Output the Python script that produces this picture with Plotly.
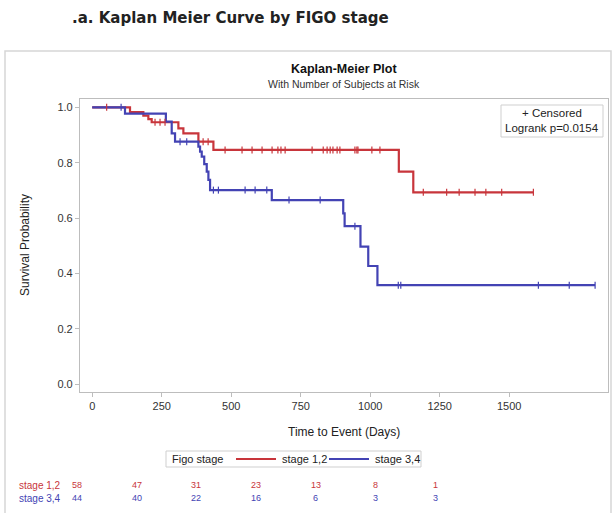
import plotly.graph_objects as go

# ---------------- data ----------------
red_t = [0, 136, 184, 202, 214, 310, 328, 382, 436, 1103, 1155, 1587]
red_s = [1.0, 0.983, 0.970, 0.957, 0.946, 0.924, 0.906, 0.876, 0.846, 0.768, 0.693, 0.693]
red_cens_t = [52, 226, 244, 262, 399, 417, 478, 539, 575, 611, 647, 668, 679, 694,
              791, 831, 845, 856, 866, 881, 891, 945, 952, 956, 1006, 1035,
              1191, 1275, 1320, 1377, 1416, 1473, 1587]

blue_t = [0, 118, 265, 286, 298, 382, 388, 394, 403, 412, 418, 424, 646, 903, 908,
          965, 993, 1026, 1809]
blue_s = [1.0, 0.977, 0.948, 0.906, 0.876, 0.858, 0.840, 0.822, 0.795, 0.768, 0.738,
          0.701, 0.665, 0.617, 0.571, 0.497, 0.427, 0.358, 0.358]
blue_cens_t = [104, 316, 340, 436, 454, 550, 586, 628, 708, 820, 945, 1101, 1110,
               1605, 1716, 1809]

risk_times = [0, 250, 500, 750, 1000, 1250, 1500]
risk_12 = [58, 47, 31, 23, 13, 8, 1]
risk_34 = [44, 40, 22, 16, 6, 3, 3]

x_ticks = [0, 250, 500, 750, 1000, 1250, 1500]
y_ticks = [0.0, 0.2, 0.4, 0.6, 0.8, 1.0]

group_names = ["stage 1,2", "stage 3,4"]
RED = "#C8353B"
BLUE = "#4343B4"
GRAY = "#BDBDBD"
FONT = "Liberation Sans"


def step_level(ts, ss, t):
    lvl = ss[0]
    for ti, si in zip(ts, ss):
        if ti <= t:
            lvl = si
    return lvl


# ---------------- layout geometry (pixels) ----------------
W, H = 612, 513
L, R, T, B = 80, 608, 99, 392  # plot area box in pixels


def px(xp):
    return (xp - L) / (R - L)


def py(yp):
    return (B - yp) / (B - T)


fig = go.Figure()

# curves
fig.add_trace(go.Scatter(x=red_t, y=red_s, mode="lines", line=dict(color=RED, width=2.2, shape="hv"),
                         name=group_names[0], showlegend=False, hoverinfo="x+y"))
fig.add_trace(go.Scatter(x=blue_t, y=blue_s, mode="lines", line=dict(color=BLUE, width=2.2, shape="hv"),
                         name=group_names[1], showlegend=False, hoverinfo="x+y"))
# censored marks
fig.add_trace(go.Scatter(x=red_cens_t, y=[step_level(red_t, red_s, t) for t in red_cens_t], mode="markers",
                         marker=dict(symbol="line-ns", size=5, line=dict(color=RED, width=1.2)),
                         showlegend=False, hoverinfo="x+y"))
fig.add_trace(go.Scatter(x=blue_cens_t, y=[step_level(blue_t, blue_s, t) for t in blue_cens_t], mode="markers",
                         marker=dict(symbol="line-ns", size=5, line=dict(color=BLUE, width=1.2)),
                         showlegend=False, hoverinfo="x+y"))

shapes = []
annotations = []

# outer frame
shapes.append(dict(type="rect", xref="paper", yref="paper", x0=px(5), x1=px(611), y0=py(51), y1=py(530),
                   line=dict(color="#D6D6D6", width=1.5), layer="below"))

# main title
annotations.append(dict(text="<b>.a. Kaplan Meier Curve by FIGO stage</b>", xref="paper", yref="paper",
                        x=px(230), y=py(18), xanchor="center", yanchor="middle", showarrow=False,
                        font=dict(family="DejaVu Sans", size=15, color="#222222")))
# plot title and subtitle
annotations.append(dict(text="<b>Kaplan-Meier Plot</b>", xref="paper", yref="paper", x=px(344), y=py(69),
                        xanchor="center", yanchor="middle", showarrow=False,
                        font=dict(family=FONT, size=12.5, color="#111111")))
annotations.append(dict(text="With Number of Subjects at Risk", xref="paper", yref="paper", x=px(344), y=py(84),
                        xanchor="center", yanchor="middle", showarrow=False,
                        font=dict(family=FONT, size=10.5, color="#333333")))

# inset box
shapes.append(dict(type="rect", xref="paper", yref="paper", x0=px(501), x1=px(603), y0=py(137), y1=py(105),
                   line=dict(color="#CFCFCF", width=1), fillcolor="white"))
annotations.append(dict(text="+ Censored", xref="paper", yref="paper", x=px(552), y=py(113),
                        xanchor="center", yanchor="middle", showarrow=False,
                        font=dict(family=FONT, size=11.5, color="#222222")))
annotations.append(dict(text="Logrank p=0.0154", xref="paper", yref="paper", x=px(552), y=py(128),
                        xanchor="center", yanchor="middle", showarrow=False,
                        font=dict(family=FONT, size=11.5, color="#222222")))

# axis titles
annotations.append(dict(text="Survival Probability", xref="paper", yref="paper", x=px(25), y=py(245),
                        xanchor="center", yanchor="middle", textangle=-90, showarrow=False,
                        font=dict(family=FONT, size=12, color="#222222")))
annotations.append(dict(text="Time to Event (Days)", xref="paper", yref="paper", x=px(344), y=py(432),
                        xanchor="center", yanchor="middle", showarrow=False,
                        font=dict(family=FONT, size=12, color="#222222")))

# legend (drawn)
shapes.append(dict(type="rect", xref="paper", yref="paper", x0=px(166), x1=px(421), y0=py(467), y1=py(451),
                   line=dict(color="#CFCFCF", width=1)))
annotations.append(dict(text="Figo stage", xref="paper", yref="paper", x=px(170), y=py(459),
                        xanchor="left", yanchor="middle", showarrow=False,
                        font=dict(family=FONT, size=11, color="#222222")))
shapes.append(dict(type="line", xref="paper", yref="paper", x0=px(236), x1=px(276), y0=py(459), y1=py(459),
                   line=dict(color=RED, width=2.2)))
annotations.append(dict(text=group_names[0], xref="paper", yref="paper", x=px(280), y=py(459),
                        xanchor="left", yanchor="middle", showarrow=False,
                        font=dict(family=FONT, size=11, color="#222222")))
shapes.append(dict(type="line", xref="paper", yref="paper", x0=px(329), x1=px(369), y0=py(459), y1=py(459),
                   line=dict(color=BLUE, width=2.2)))
annotations.append(dict(text=group_names[1], xref="paper", yref="paper", x=px(373), y=py(459),
                        xanchor="left", yanchor="middle", showarrow=False,
                        font=dict(family=FONT, size=11, color="#222222")))

# at-risk table rows
annotations.append(dict(text=group_names[0], xref="paper", yref="paper", x=px(17), y=py(485),
                        xanchor="left", yanchor="middle", showarrow=False,
                        font=dict(family=FONT, size=10, color=RED)))
annotations.append(dict(text=group_names[1], xref="paper", yref="paper", x=px(17), y=py(498),
                        xanchor="left", yanchor="middle", showarrow=False,
                        font=dict(family=FONT, size=10, color=BLUE)))
SHIFT = -5  # table scale: 0 -> 82 px (then shifted to 77 px), 1500 -> 435 px
for t, n in zip(risk_times, risk_12):
    annotations.append(dict(text=str(n), xref="x2", yref="paper", x=t, y=py(485), xanchor="center",
                            yanchor="middle", showarrow=False, xshift=SHIFT,
                            font=dict(family=FONT, size=9, color=RED)))
for t, n in zip(risk_times, risk_34):
    annotations.append(dict(text=str(n), xref="x2", yref="paper", x=t, y=py(498), xanchor="center",
                            yanchor="middle", showarrow=False, xshift=SHIFT,
                            font=dict(family=FONT, size=9, color=BLUE)))

# x-axis scale in pixels: 0 -> 92.2 px, 0.278 px/day
x0p, kx = 92.2, 0.278
xr = [(L - x0p) / kx, (R - x0p) / kx]
# at-risk table scale: 0 -> 82 px, 1500 -> 440 px (before shift)
k2 = (440 - 82) / 1500
x2r = [(L - 82) / k2, (R - 82) / k2]
# y scale: 0 -> 384.3 px, 1 -> 107.3 px
ky = 384.3 - 107.3
yr = [(384.3 - B) / ky, (384.3 - T) / ky]

axis_font = dict(family=FONT, size=11, color="#333333")
fig.update_layout(
    width=W, height=H,
    margin=dict(l=L, r=W - R, t=T, b=H - B, pad=0),
    paper_bgcolor="white", plot_bgcolor="white",
    showlegend=False,
    xaxis=dict(range=xr, tickvals=x_ticks, showgrid=False, zeroline=False, showline=True, mirror=True,
               linecolor=GRAY, linewidth=1.2, ticks="outside", ticklen=4, tickcolor=GRAY,
               tickfont=axis_font),
    xaxis2=dict(range=x2r, overlaying="x", visible=False),
    yaxis=dict(range=yr, tickvals=y_ticks, tickformat=".1f", showgrid=False, zeroline=False, showline=True,
               mirror=True, linecolor=GRAY, linewidth=1.2, ticks="outside", ticklen=4, tickcolor=GRAY,
               tickfont=axis_font),
    shapes=shapes,
    annotations=annotations,
)

fig.write_html("out.html", config={"displayModeBar": False},
               post_script="document.body.style.margin='0px';document.body.style.padding='0px';")
